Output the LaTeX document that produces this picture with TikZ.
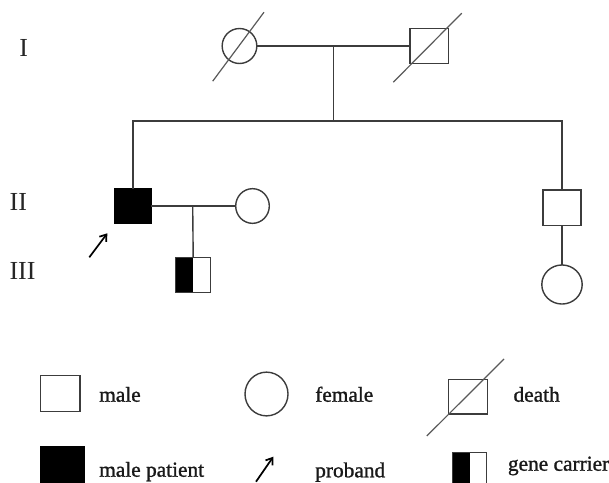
\documentclass[tikz,border=0pt]{standalone}
\usepackage{fontspec}
\setmainfont{Liberation Serif}
\newfontfamily\legfont{Liberation Serif}[FakeBold=1.2]
\usetikzlibrary{shapes.geometric,arrows.meta}
\definecolor{ln}{HTML}{3C3C3C}
\tikzset{
  px/.style={x=0.75pt,y=-0.75pt},
  ped/.style={draw=ln,line width=1.05pt,inner sep=0pt,outer sep=0pt},
  sq/.style={ped,rectangle,fill=white},
  fem/.style={ped,ellipse,fill=white},
  aff/.style={ped,rectangle,fill=black,draw=black},
  carrier/.style={ped,rectangle,fill=white,path picture={\fill[black] (path picture bounding box.south west) rectangle (path picture bounding box.north);}},
  conn/.style={draw=ln,line width=1.05pt},
  slash/.style={draw=ln!85,line width=0.9pt},
  probarrow/.style={draw=black,line width=1.3pt,-{Straight Barb[length=4.5pt,width=6.5pt]}},
  gen/.style={font=\fontsize{19.5}{22}\selectfont,text=black!85,inner sep=0pt},
  leg/.style={font=\legfont\fontsize{16}{19}\selectfont,text=black!90,anchor=base west,inner sep=0pt}
}
\begin{document}
\begin{tikzpicture}[px]
\useasboundingbox (0,0) rectangle (609,482);
\clip (0,0) rectangle (609,482);
% generation labels
\node[gen] (gI) at (23.7,48) {I};
\node[gen] (gII) at (18.3,201.7) {II};
\node[gen] (gIII) at (22.5,271.3) {III};
% generation I
\node[fem,minimum width=26pt,minimum height=26.25pt] (i1) at (239.5,46) {};
\node[sq,minimum width=29pt,minimum height=26.5pt] (i2) at (429.3,46) {};
\draw[slash] ([shift={(-26.8,35.2)}]i1.center) -- ([shift={(24.5,-33.8)}]i1.center);
\draw[slash] ([shift={(-36,36.2)}]i2.center) -- ([shift={(32.4,-32.8)}]i2.center);
\coordinate (m1) at (333.3,46);
\coordinate (sib) at (333.3,121);
\draw[conn] (i1.east) -- (i2.west);
\draw[conn] (m1) -- (sib);
% generation II
\node[aff,minimum width=27pt,minimum height=25.3pt] (ii1) at (133,206) {};
\node[fem,minimum width=25.2pt,minimum height=26pt] (ii2) at (252.5,206) {};
\node[sq,minimum width=28.5pt,minimum height=26.5pt] (ii3) at (562,207.6) {};
\draw[conn] (ii1.north) |- (sib) -| (ii3.north);
\draw[conn] (ii1.east) -- (ii2.west);
\coordinate (m2) at (192.7,206);
% generation III
\node[carrier,minimum width=26.25pt,minimum height=26pt] (iii1) at (193.2,275) {};
\node[fem,minimum width=30.3pt,minimum height=29.3pt] (iii2) at (562,284.5) {};
\draw[conn] (m2) -- (iii1.north);
\draw[conn] (ii3.south) -- (iii2.north);
% proband arrow
\coordinate (pa1) at (89.3,257.3);
\coordinate (pa2) at (107.3,233.3);
\draw[probarrow] (pa1) -- (pa2);
% legend row 1
\node[sq,minimum width=29.5pt,minimum height=26.7pt] (lmale) at (60.3,393.5) {};
\node[leg] (tmale) at (99,401.7) {male};
\node[fem,minimum width=32.25pt,minimum height=32.8pt] (lfem) at (266.5,394) {};
\node[leg] (tfem) at (315,401.7) {female};
\node[sq,minimum width=29.25pt,minimum height=26pt] (ldeath) at (467.8,396.7) {};
\draw[slash] ([shift={(-41,39.3)}]ldeath.center) -- ([shift={(36.2,-37.7)}]ldeath.center);
\node[leg] (tdeath) at (513.3,401.7) {death};
% legend row 2
\node[aff,minimum width=32.7pt,minimum height=30pt] (lpat) at (62.5,466.7) {};
\node[leg] (tpat) at (99,476.7) {male patient};
\coordinate (la1) at (256,481.7);
\coordinate (la2) at (273.3,456.7);
\draw[probarrow] (la1) -- (la2);
\node[leg] (tprob) at (315,477.3) {proband};
\node[carrier,minimum width=25.5pt,minimum height=26pt] (lcar) at (469.7,470) {};
\node[leg] (tcar) at (507.7,470.7) {gene carrier};
\end{tikzpicture}
\end{document}
